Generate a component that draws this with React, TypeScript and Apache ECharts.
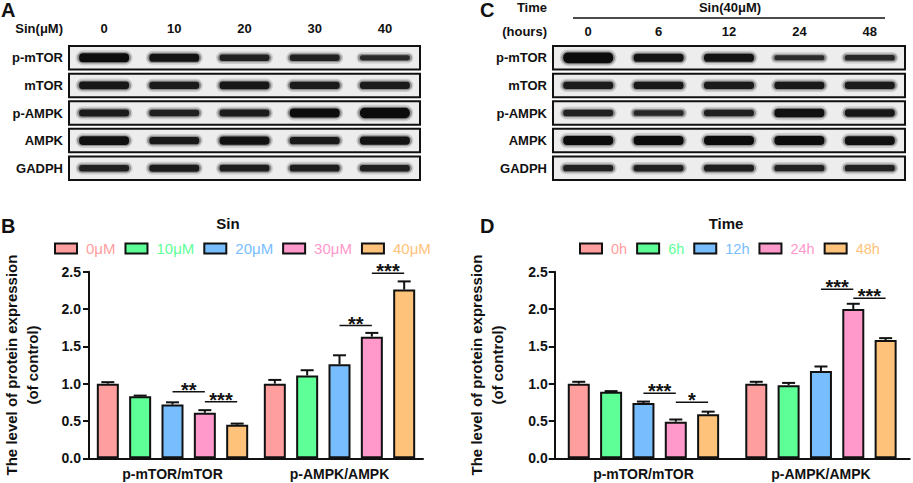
import React, { useEffect, useRef } from "react";
import * as echarts from "echarts";

const FONT = '"Liberation Sans", Arial, Helvetica, sans-serif';
const INK = "#111111";

// ---- Western blot panels (relative band intensity) ----
const blotRows = ["p-mTOR", "mTOR", "p-AMPK", "AMPK", "GADPH"];
const lanesA = ["0", "10", "20", "30", "40"];
const lanesC = ["0", "6", "12", "24", "48"];
const bandA = [
  [1.0, 0.9, 0.72, 0.72, 0.58],
  [0.85, 0.8, 0.85, 0.8, 0.8],
  [0.8, 0.72, 0.8, 1.0, 1.15],
  [0.95, 0.82, 0.92, 0.82, 0.9],
  [0.72, 0.78, 0.75, 0.75, 0.72],
];
const bandC = [
  [1.2, 0.9, 0.9, 0.55, 0.62],
  [0.8, 0.82, 0.8, 0.82, 0.8],
  [0.7, 0.62, 0.72, 0.92, 0.85],
  [1.0, 1.0, 1.0, 1.0, 0.95],
  [0.7, 0.72, 0.75, 0.7, 0.7],
];

// ---- Bar charts ----
const groups = ["p-mTOR/mTOR", "p-AMPK/AMPK"];
const doseNames = ["0μM", "10μM", "20μM", "30μM", "40μM"];
const timeNames = ["0h", "6h", "12h", "24h", "48h"];
const colors = ["#FF9E9E", "#5EFF97", "#78BEFF", "#FF99CC", "#FFC27A"];

const doseMTOR = [1.0, 0.83, 0.72, 0.61, 0.45];
const doseMTORErr = [0.02, 0.01, 0.03, 0.035, 0.015];
const doseAMPK = [1.0, 1.11, 1.26, 1.63, 2.26];
const doseAMPKErr = [0.05, 0.07, 0.12, 0.05, 0.11];

const timeMTOR = [1.0, 0.89, 0.74, 0.49, 0.59];
const timeMTORErr = [0.025, 0.01, 0.02, 0.03, 0.035];
const timeAMPK = [1.0, 0.98, 1.17, 2.0, 1.585];
const timeAMPKErr = [0.025, 0.03, 0.06, 0.07, 0.025];

// [category, fromBar, toBar, y, label]
const sigB: [number, number, number, number, string][] = [
  [0, 2, 3, 0.893, "**"],
  [0, 3, 4, 0.759, "***"],
  [1, 2, 3, 1.778, "**"],
  [1, 3, 4, 2.479, "***"],
];
const sigD: [number, number, number, number, string][] = [
  [0, 2, 3, 0.871, "***"],
  [0, 3, 4, 0.75, "*"],
  [1, 2, 3, 2.264, "***"],
  [1, 3, 4, 2.144, "***"],
];

const BAR_W = 22;
const BAR_GAP = 0.47;
const PITCH = BAR_W * (1 + BAR_GAP);

function blotSeries(axis: number, bands: number[][]) {
  const boxH = 23.5;
  const frames = {
    type: "custom",
    xAxisIndex: axis,
    yAxisIndex: axis,
    z: 1,
    silent: true,
    data: blotRows.map((_, i) => [0, i]),
    renderItem: (params: any, api: any) => {
      const cs = params.coordSys;
      const y = api.coord([0, api.value(1)])[1];
      return {
        type: "rect",
        shape: { x: cs.x, y: y - boxH / 2, width: cs.width, height: boxH },
        style: { fill: "#ededed", stroke: INK, lineWidth: 2 },
      };
    },
  };
  const data: number[][] = [];
  bands.forEach((row, r) => row.forEach((v, l) => data.push([l, r, v])));
  const bandsS = {
    type: "custom",
    xAxisIndex: axis,
    yAxisIndex: axis,
    z: 2,
    silent: true,
    data,
    renderItem: (params: any, api: any) => {
      const p = api.coord([api.value(0), api.value(1)]);
      const v = api.value(2);
      const h = 9 * v;
      const w = 52;
      const op = Math.min(1, 0.45 + 0.55 * v);
      return {
        type: "group",
        children: [
          {
            type: "rect",
            shape: { x: p[0] - w / 2 - 2.5, y: p[1] - h / 2 - 3, width: w + 5, height: h + 6, r: (h + 6) / 2 },
            style: { fill: "rgba(60,60,60,0.18)" },
          },
          {
            type: "rect",
            shape: { x: p[0] - w / 2 - 1, y: p[1] - h / 2 - 1.2, width: w + 2, height: h + 2.4, r: (h + 2.4) / 2 },
            style: { fill: "rgba(30,30,30,0.35)" },
          },
          {
            type: "rect",
            shape: { x: p[0] - w / 2 + 1, y: p[1] - h / 2, width: w - 2, height: h, r: h / 2.2 },
            style: { fill: "#0c0c0c", opacity: op },
          },
        ],
      };
    },
  };
  return [frames, bandsS];
}

function barSeries(axis: number, names: string[], a: number[], b: number[]) {
  return names.map((n, i) => ({
    type: "bar",
    name: n,
    xAxisIndex: axis,
    yAxisIndex: axis,
    barWidth: BAR_W,
    barGap: BAR_GAP * 100 + "%",
    z: 2,
    itemStyle: { color: colors[i], borderColor: INK, borderWidth: 2, borderRadius: 0 },
    data: [a[i], b[i]],
  }));
}

function errSeries(axis: number, a: number[], ae: number[], b: number[], be: number[]) {
  const data: number[][] = [];
  a.forEach((v, i) => data.push([0, i, v, ae[i]]));
  b.forEach((v, i) => data.push([1, i, v, be[i]]));
  return {
    type: "custom",
    xAxisIndex: axis,
    yAxisIndex: axis,
    z: 3,
    silent: true,
    encode: { x: 0, y: 2 },
    data,
    renderItem: (params: any, api: any) => {
      const cat = api.value(0);
      const idx = api.value(1);
      const v = api.value(2);
      const e = api.value(3);
      const base = api.coord([cat, v]);
      const top = api.coord([cat, v + e]);
      const x = base[0] + (idx - 2) * PITCH;
      return {
        type: "group",
        children: [
          { type: "line", shape: { x1: x, y1: base[1], x2: x, y2: top[1] }, style: { stroke: INK, lineWidth: 2 } },
          { type: "line", shape: { x1: x - 6.5, y1: top[1], x2: x + 6.5, y2: top[1] }, style: { stroke: INK, lineWidth: 2 } },
        ],
      };
    },
  };
}

function sigSeries(axis: number, sig: [number, number, number, number, string][]) {
  return {
    type: "custom",
    xAxisIndex: axis,
    yAxisIndex: axis,
    z: 4,
    silent: true,
    clip: false,
    encode: { x: 0, y: 3 },
    data: sig.map((s) => [s[0], s[1], s[2], s[3]]),
    renderItem: (params: any, api: any) => {
      const i = params.dataIndex;
      const cat = api.value(0);
      const p = api.coord([cat, api.value(3)]);
      const x1 = p[0] + (api.value(1) - 2) * PITCH;
      const x2 = p[0] + (api.value(2) - 2) * PITCH;
      return {
        type: "group",
        children: [
          { type: "line", shape: { x1, y1: p[1], x2, y2: p[1] }, style: { stroke: INK, lineWidth: 1.5 } },
          {
            type: "text",
            x: (x1 + x2) / 2,
            y: p[1] + 8,
            style: {
              text: sig[i][4],
              font: `bold 20px ${FONT}`,
              fill: INK,
              align: "center",
              verticalAlign: "bottom",
            },
          },
        ],
      };
    },
  };
}

const boldLabel = (size: number) => ({
  color: INK,
  fontWeight: "bold" as const,
  fontSize: size,
  fontFamily: FONT,
});

function blotAxes(grid: number, lanes: string[], margin: number) {
  return {
    x: {
      gridIndex: grid,
      type: "category",
      data: lanes,
      position: "top",
      axisLine: { show: false },
      axisTick: { show: false },
      axisLabel: { ...boldLabel(13), margin },
    },
    y: {
      gridIndex: grid,
      type: "category",
      data: blotRows,
      inverse: true,
      axisLine: { show: false },
      axisTick: { show: false },
      axisLabel: { ...boldLabel(13), margin: 6 },
    },
  };
}

function barAxes(grid: number, labelMargin: number, nameGap: number) {
  return {
    x: {
      gridIndex: grid,
      type: "category",
      data: groups,
      axisLine: { lineStyle: { color: INK, width: 2 } },
      axisTick: { alignWithLabel: true, length: 6, lineStyle: { color: INK, width: 2 } },
      axisLabel: { ...boldLabel(14), margin: 9 },
    },
    y: {
      gridIndex: grid,
      type: "value",
      min: 0,
      max: 2.5,
      interval: 0.5,
      axisLine: { show: true, lineStyle: { color: INK, width: 2 } },
      axisTick: { show: true, length: 6, lineStyle: { color: INK, width: 2 } },
      splitLine: { show: false },
      axisLabel: { ...boldLabel(14), margin: labelMargin, formatter: (v: number) => v.toFixed(1) },
      name: "The level of protein expression\n(of control)",
      nameLocation: "middle",
      nameRotate: 90,
      nameGap,
      nameTextStyle: { ...boldLabel(15), lineHeight: 21 },
    },
  };
}

function legendFor(names: string[], left: number, gap: number, size: number, pad: number) {
  return {
    left,
    top: 236,
    icon: "rect",
    itemWidth: 22,
    itemHeight: 10,
    itemGap: gap,
    selectedMode: false,
    itemStyle: { borderColor: INK, borderWidth: 2 },
    data: names.map((n, i) => ({ name: n, textStyle: { color: colors[i] } })),
    textStyle: { fontSize: size, fontFamily: FONT, padding: [0, 0, 0, pad] },
  };
}

const txt = (text: string, x: number, y: number, size: number, align = "left") => ({
  type: "text",
  x,
  y,
  silent: true,
  style: { text, font: `bold ${size}px ${FONT}`, fill: INK, align, verticalAlign: "middle" },
});

export default function App() {
  const ref = useRef<HTMLDivElement>(null);
  useEffect(() => {
    if (!ref.current) return;
    const chart = echarts.init(ref.current, null, { renderer: "svg" });
    const aA = blotAxes(0, lanesA, 9);
    const aC = blotAxes(1, lanesC, 6);
    const aB = barAxes(2, 8, 46);
    const aD = barAxes(3, 7, 47);
    chart.setOption({
      animation: false,
      backgroundColor: "#ffffff",
      textStyle: { fontFamily: FONT },
      grid: [
        { left: 69, top: 44, width: 351, height: 138 },
        { left: 553, top: 44, width: 352, height: 138 },
        { left: 65, top: 271.7, width: 358, height: 186.6 },
        { left: 554.7, top: 271.7, width: 355, height: 186.6 },
      ],
      xAxis: [aA.x, aC.x, aB.x, aD.x],
      yAxis: [aA.y, aC.y, aB.y, aD.y],
      legend: [legendFor(doseNames, 49, 9, 15, 4), legendFor(timeNames, 574, 9, 14.5, 4)],
      graphic: [
        txt("A", 1, 9.5, 20),
        txt("Sin(μM)", 63, 28, 13, "right"),
        txt("C", 480, 9.5, 20),
        txt("Time", 547, 7, 13, "right"),
        txt("(hours)", 547, 31, 13, "right"),
        txt("Sin(40μM)", 730, 7, 13, "center"),
        {
          type: "line",
          silent: true,
          shape: { x1: 573, y1: 18, x2: 885, y2: 18 },
          style: { stroke: INK, lineWidth: 1.5 },
        },
        txt("B", 1, 225.5, 20),
        txt("Sin", 228, 223, 15, "center"),
        txt("D", 480, 225.5, 20),
        txt("Time", 726, 223, 15, "center"),
      ],
      series: [
        ...blotSeries(0, bandA),
        ...blotSeries(1, bandC),
        ...barSeries(2, doseNames, doseMTOR, doseAMPK),
        ...barSeries(3, timeNames, timeMTOR, timeAMPK),
        errSeries(2, doseMTOR, doseMTORErr, doseAMPK, doseAMPKErr),
        errSeries(3, timeMTOR, timeMTORErr, timeAMPK, timeAMPKErr),
        sigSeries(2, sigB),
        sigSeries(3, sigD),
      ],
    });
    return () => chart.dispose();
  }, []);
  return (
    <div
      ref={ref}
      style={{ position: "absolute", left: 0, top: 0, width: 913, height: 483, background: "#fff" }}
    />
  );
}
